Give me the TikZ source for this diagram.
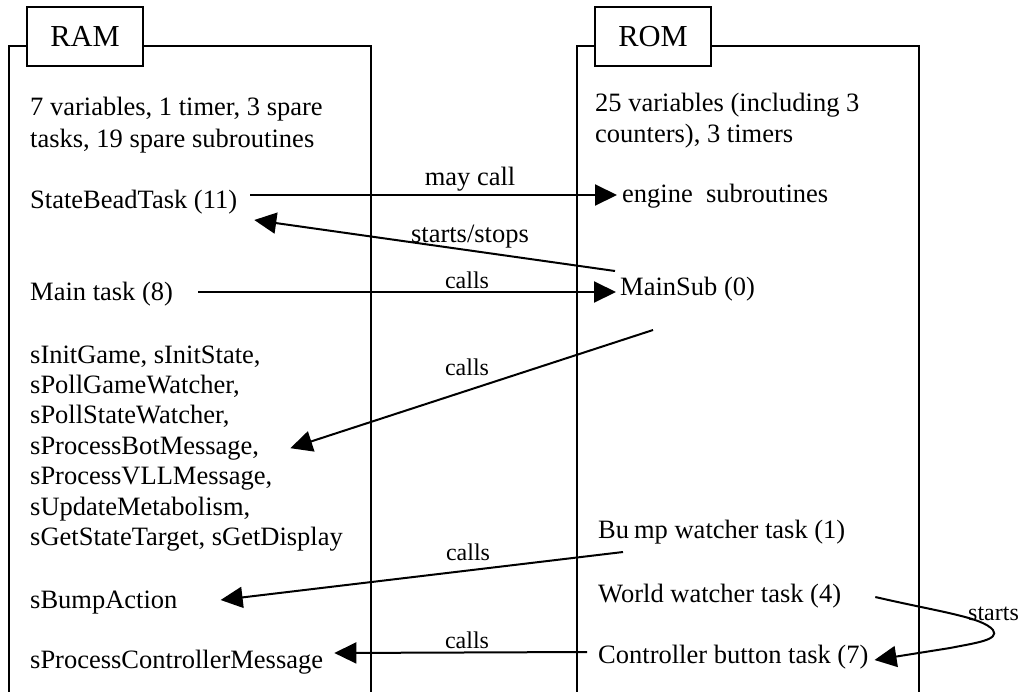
\documentclass[tikz,border=0pt]{standalone}
\usepackage{fontspec}
\setmainfont{Liberation Serif}
\usetikzlibrary{arrows.meta}
\tikzset{
  txt/.style={inner sep=0pt, anchor=base west, font=\fontsize{26.5}{31}\selectfont},
  lbl/.style={inner sep=0pt, anchor=base, font=\fontsize{26.5}{31}\selectfont},
  slbl/.style={inner sep=0pt, anchor=base, font=\fontsize{24}{29}\selectfont},
  tab/.style={draw, line width=2pt, fill=white, minimum width=116pt, minimum height=59pt, inner sep=0pt, text depth=0pt, font=\fontsize{30.5}{36}\selectfont},
  frame/.style={draw, line width=2pt},
  arr/.style={draw, line width=2pt, -{Triangle[length=22pt,width=21pt]}},
}
\begin{document}
\begin{tikzpicture}[x=1pt,y=-1pt]
\useasboundingbox (0,0) rectangle (1024,691);
% frames
\draw[frame] (9,695) -- (9,46) -- (371,46) -- (371,695);
\draw[frame] (577,695) -- (577,46) -- (919,46) -- (919,695);
\node[tab] (ramtab) at (85,36.5) {RAM};
\node[tab] (romtab) at (653,36.5) {ROM};
% RAM texts
\node[txt] (ramA) at (30,115) {7 variables, 1 timer, 3 spare};
\node[txt] (ramB) at (30,147) {tasks, 19 spare subroutines};
\node[txt] (sbt) at (30,208) {StateBeadTask (11)};
\node[txt] (maintask) at (30,300) {Main task (8)};
\node[txt] (L1) at (30,363) {sInitGame, sInitState,};
\node[txt] (L2) at (30,393.4) {sPollGameWatcher,};
\node[txt] (L3) at (30,423.8) {sPollStateWatcher,};
\node[txt] (L4) at (30,454.2) {sProcessBotMessage,};
\node[txt] (L5) at (30,484.6) {sProcessVLLMessage,};
\node[txt] (L6) at (30,515) {sUpdateMetabolism,};
\node[txt] (L7) at (30,545.4) {sGetStateTarget, sGetDisplay};
\node[txt] (bump) at (30,608) {sBumpAction};
\node[txt] (pcm) at (30,668) {sProcessControllerMessage};
% ROM texts
\node[txt] (romA) at (595,111) {25 variables (including 3};
\node[txt] (romB) at (595,142) {counters), 3 timers};
\node[txt] (engine) at (622,202) {engine\ \ subroutines};
\node[txt] (mainsub) at (620,295) {MainSub (0)};
\node[txt] (bw) at (598,538) {Bu\hspace{5pt}mp watcher task (1)};
\node[txt] (ww) at (598,602) {World watcher task (4)};
\node[txt] (cb) at (598,663) {Controller button task (7)};
% connectors
\draw[arr] ([shift={(13,-13)}]sbt.base east) -- ([shift={(-5,-7)}]engine.base west);
\draw[arr] ([shift={(-5,-24)}]mainsub.base west) -- ([shift={(17,12)}]sbt.base east);
\draw[arr] ([shift={(25,-8)}]maintask.base east) -- ([shift={(-4,-3)}]mainsub.base west);
\draw[arr] ([shift={(33,35)}]mainsub.base west) -- ([shift={(31,-6)}]L4.base east);
\draw[arr] ([shift={(25,14)}]bw.base west) -- ([shift={(43,-8)}]bump.base east);
\draw[arr] ([shift={(-11,-11)}]cb.base west) -- ([shift={(11,-15)}]pcm.base east);
\draw[arr] ([shift={(34,-5)}]ww.base east) .. controls (940,612) and (982,617) .. (993,630)
   .. controls (1000,640) and (975,643) .. (950,648) -- ([shift={(6,-3)}]cb.base east);
% labels
\node[lbl] (lmay) at (470,185) {may call};
\node[lbl] (lss) at (470,242) {starts/stops};
\node[slbl] (lc1) at (467,288) {calls};
\node[slbl] (lc2) at (467,375) {calls};
\node[slbl] (lc3) at (468,560) {calls};
\node[slbl] (lc4) at (467,648) {calls};
\node[slbl, anchor=base west] (lst) at (968,620) {starts};
\end{tikzpicture}
\end{document}
